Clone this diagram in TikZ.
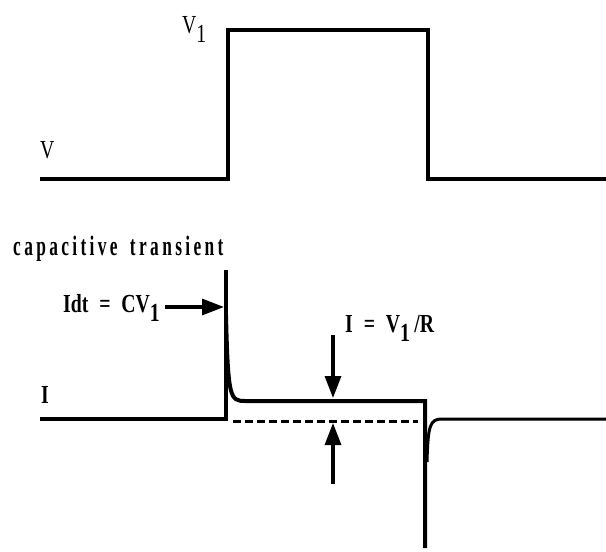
\documentclass[tikz,border=0pt]{standalone}
\usepackage{fontspec}
\setmainfont{Liberation Serif}
\newfontfamily\narrowfont[FakeStretch=0.76,WordSpace=2.2]{Liberation Serif}
\newfontfamily\spacedfont[FakeStretch=0.62,LetterSpace=12,WordSpace=1.6]{Liberation Serif}
\usetikzlibrary{arrows.meta}
\newcommand{\subone}{\raisebox{-9pt}{1}}
\tikzset{
  wave/.style={line width=4pt},
  lbl/.style={font=\narrowfont\fontsize{26}{26}\selectfont,inner sep=0pt,anchor=base west},
  bigarrow/.style={line width=3.2pt,-{Triangle[length=22pt,width=16pt]}},
}
\begin{document}
\begin{tikzpicture}[x=1pt,y=-1pt]
\useasboundingbox(0,0)rectangle(606,552);
%voltage
\draw[wave](40,179)--++(188,0)--++(0,-149)--++(200,0)--++(0,149)--++(178,0);
\node[lbl](v)at(40,158){V};
\node[lbl](vone)at(182,33){V\subone};
%current
\draw[line width=3.4pt](40,419)--(226,419)--(226,270);
\draw[wave](226,315)..controls(228,398)and(230,401)..(245,401)--(425,401)--(425,548);
\draw[line width=3pt](427,462)..controls(428,425)and(430,419)..(442,419)--(606,419);
\draw[line width=3pt,dash pattern=on 8pt off 4pt](233,421)--(418,421);
\node[lbl](i)at(41,403){\bfseries I};
%labels
\node[inner sep=0pt,anchor=base west,font=\spacedfont\bfseries\fontsize{28}{28}\selectfont](cap)at(13,255){capacitive transient};
\node[lbl](idt)at(63,312){\bfseries Idt = CV\subone};
\coordinate(spk)at(224,307);
\draw[bigarrow](idt.east|-spk)++(5,0)--(spk);
\node[lbl](ivr)at(345,332){\bfseries I = V\subone\,/R};
\coordinate(ta)at(333,335);
\coordinate(tb)at(333,398);
\coordinate(ba)at(333,484);
\coordinate(bb)at(333,423);
\draw[bigarrow](ta)--(tb);
\draw[bigarrow](ba)--(bb);
\end{tikzpicture}
\end{document}
